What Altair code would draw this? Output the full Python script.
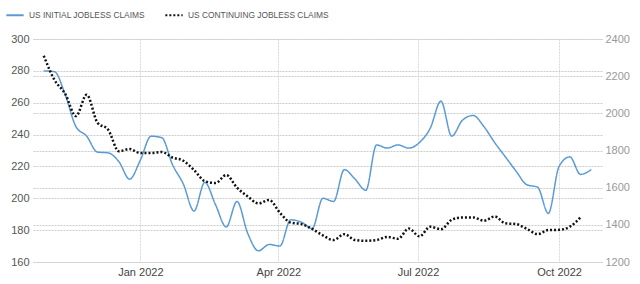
import altair as alt
import pandas as pd

# Weekly observations (week ending Saturday), first week 2021-10-30
first_week = "2021-10-30"
initial_claims = [280, 279.5, 265, 245, 239, 229, 228.5, 223, 212, 224,
                  239, 238, 221, 209, 192, 210, 196, 182, 198, 178,
                  167, 171, 170, 186.5, 185, 181, 200, 198, 218, 212,
                  205, 233.5, 231.5, 233.5, 231.5, 235, 244, 261, 239, 249,
                  252, 245, 235, 226, 217, 208.5, 207, 190.5, 220, 226,
                  215, 218]
continuing_claims = [2310, 2180, 2105, 1985, 2100, 1950, 1912, 1796, 1808, 1786,
                     1786, 1792, 1762, 1745, 1695, 1635, 1625, 1668, 1600, 1553,
                     1515, 1534, 1465, 1412, 1404, 1378, 1343, 1318, 1350, 1318,
                     1314, 1318, 1335, 1325, 1380, 1338, 1390, 1376, 1427, 1440,
                     1440, 1422, 1445, 1408, 1404, 1378, 1350, 1372, 1373, 1390,
                     1440]

series_names = ["US INITIAL JOBLESS CLAIMS", "US CONTINUING JOBLESS CLAIMS"]
left_ticks = [160, 180, 200, 220, 240, 260, 280, 300]
right_ticks = [1200, 1400, 1600, 1800, 2000, 2200, 2400]

df_init = pd.DataFrame({
    "date": pd.date_range(first_week, periods=len(initial_claims), freq="7D"),
    "value": initial_claims,
    "series": series_names[0],
})
df_cont = pd.DataFrame({
    "date": pd.date_range(first_week, periods=len(continuing_claims), freq="7D"),
    "value": continuing_claims,
    "series": series_names[1],
})

x_enc = alt.X(
    "date:T",
    scale=alt.Scale(domain=[alt.DateTime(year=2021, month=10, date=23),
                            alt.DateTime(year=2022, month=10, date=29)]),
    axis=alt.Axis(
        title=None, format="%b %Y",
        values=[alt.DateTime(year=2022, month=1, date=1),
                alt.DateTime(year=2022, month=4, date=1),
                alt.DateTime(year=2022, month=7, date=1),
                alt.DateTime(year=2022, month=10, date=1)],
        grid=True, gridColor="#d9d9d9", gridDash=[2, 1], gridWidth=1,
        domain=False, ticks=False, labelPadding=4,
        labelFontSize=11, labelColor="#444", labelFont="Liberation Sans",
    ),
)

color_enc = alt.Color(
    "series:N",
    scale=alt.Scale(domain=series_names, range=["#5B9BD5", "#111111"]),
    legend=alt.Legend(
        title=None, orient="none", legendX=-28, legendY=-34,
        direction="horizontal", symbolType="stroke", symbolSize=300,
        symbolStrokeWidth=2, labelFontSize=8.4, labelColor="#555",
        labelFont="Liberation Sans", columnPadding=16, labelOffset=4,
    ),
)
dash_enc = alt.StrokeDash(
    "series:N",
    scale=alt.Scale(domain=series_names, range=[[1, 0], [2, 2]]),
    legend=None,
)

initial_line = alt.Chart(df_init).mark_line(
    interpolate="monotone", strokeWidth=1.5
).encode(
    x=x_enc,
    y=alt.Y(
        "value:Q",
        scale=alt.Scale(domain=[160, 300], nice=False, zero=False),
        axis=alt.Axis(
            title=None, orient="left", values=left_ticks,
            grid=True, gridColor="#cccccc", gridDash=[2, 1],
            domain=False, ticks=False, labelPadding=4,
            labelFontSize=11, labelColor="#555", labelFont="Liberation Sans",
        ),
    ),
    color=color_enc,
    strokeDash=dash_enc,
)

cont_line = alt.Chart(df_cont).mark_line(
    interpolate="monotone", strokeWidth=2.5, strokeCap="butt"
).encode(
    x=x_enc,
    y=alt.Y(
        "value:Q",
        scale=alt.Scale(domain=[1200, 2400], nice=False, zero=False),
        axis=alt.Axis(
            title=None, orient="right", values=right_ticks, format="d",
            grid=True, gridColor="#cccccc", gridDash=[2, 1],
            domain=False, ticks=False, labelPadding=3,
            labelFontSize=11, labelColor="#999", labelFont="Liberation Sans",
        ),
    ),
    color=color_enc,
    strokeDash=dash_enc,
)

chart = alt.layer(initial_line, cont_line).resolve_scale(
    y="independent"
).properties(
    width=569, height=223,
    padding={"left": 33, "top": 39, "right": 38, "bottom": 22},
    autosize=alt.AutoSizeParams(type="none"),
    background="white",
).configure_view(stroke=None)

chart.save("out.html", embed_options={"renderer": "svg", "actions": False})
